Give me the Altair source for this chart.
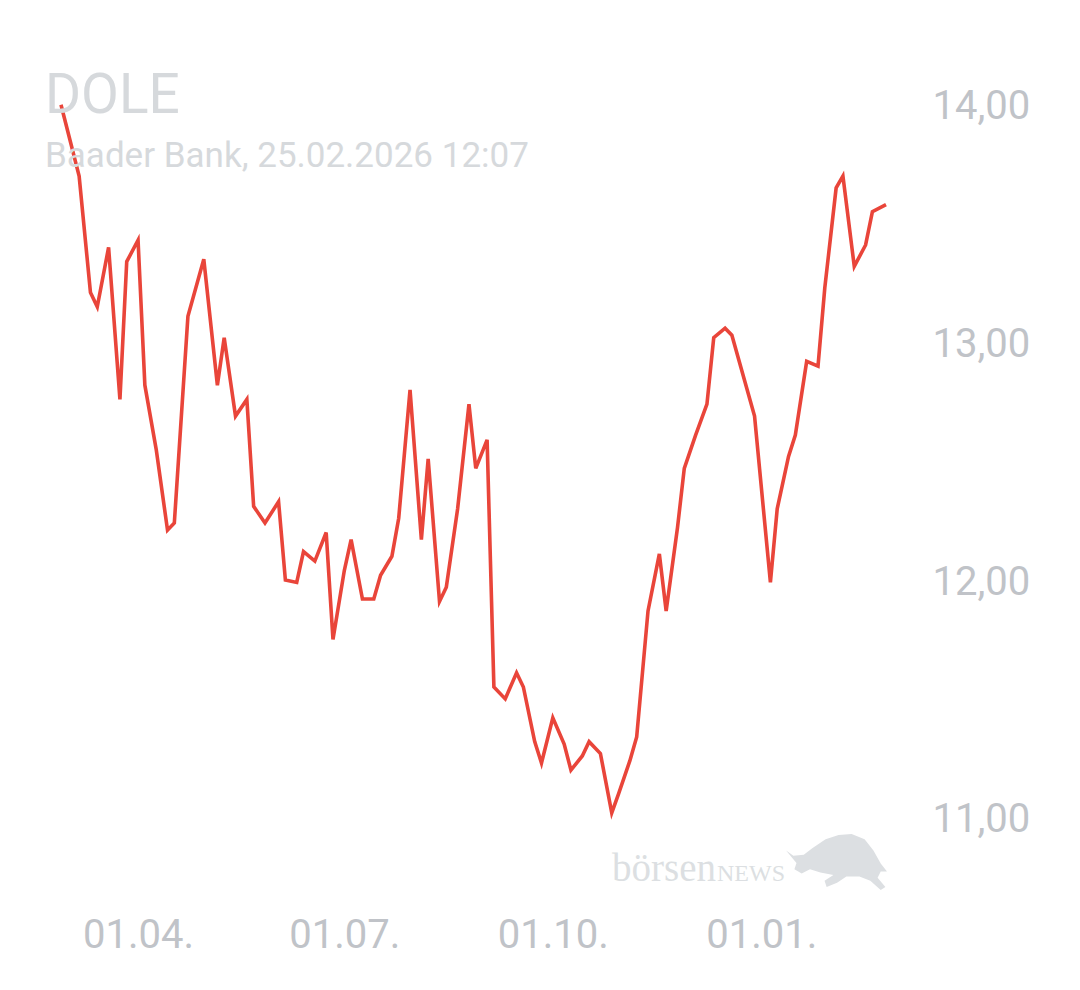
import altair as alt
import pandas as pd

# ---- data ----
dates = ["2025-02-26", "2025-03-06", "2025-03-11", "2025-03-14", "2025-03-19", "2025-03-24",
         "2025-03-27", "2025-04-01", "2025-04-04", "2025-04-09", "2025-04-14", "2025-04-17",
         "2025-04-23", "2025-04-30", "2025-05-06", "2025-05-09", "2025-05-14", "2025-05-19",
         "2025-05-22", "2025-05-27", "2025-06-02", "2025-06-05", "2025-06-10", "2025-06-13",
         "2025-06-18", "2025-06-23", "2025-06-26", "2025-07-01", "2025-07-04", "2025-07-09",
         "2025-07-14", "2025-07-17", "2025-07-22", "2025-07-25", "2025-07-30", "2025-08-04",
         "2025-08-07", "2025-08-12", "2025-08-15", "2025-08-20", "2025-08-25", "2025-08-28",
         "2025-09-02", "2025-09-05", "2025-09-10", "2025-09-15", "2025-09-18", "2025-09-23",
         "2025-09-26", "2025-10-01", "2025-10-06", "2025-10-09", "2025-10-14", "2025-10-17",
         "2025-10-22", "2025-10-27", "2025-10-30", "2025-11-04", "2025-11-07", "2025-11-12",
         "2025-11-17", "2025-11-20", "2025-11-25", "2025-11-28", "2025-12-03", "2025-12-08",
         "2025-12-11", "2025-12-16", "2025-12-19", "2025-12-29", "2026-01-05", "2026-01-08",
         "2026-01-13", "2026-01-16", "2026-01-21", "2026-01-26", "2026-01-29", "2026-02-03",
         "2026-02-06", "2026-02-11", "2026-02-16", "2026-02-19", "2026-02-25"]

prices = [14.00, 13.70, 13.21, 13.15, 13.40, 12.76, 13.34, 13.43, 12.82, 12.55,
          12.21, 12.24, 13.11, 13.35, 12.82, 13.02, 12.69, 12.76, 12.31, 12.24,
          12.33, 12.00, 11.99, 12.12, 12.08, 12.20, 11.75, 12.04, 12.17, 11.92,
          11.92, 12.02, 12.10, 12.26, 12.80, 12.17, 12.51, 11.91, 11.97, 12.30,
          12.74, 12.47, 12.59, 11.55, 11.50, 11.61, 11.55, 11.32, 11.23, 11.42,
          11.31, 11.20, 11.26, 11.32, 11.27, 11.02, 11.10, 11.24, 11.34, 11.87,
          12.11, 11.87, 12.22, 12.47, 12.61, 12.74, 13.02, 13.06, 13.03, 12.69,
          11.99, 12.30, 12.52, 12.61, 12.92, 12.90, 13.23, 13.65, 13.70, 13.32,
          13.41, 13.55, 13.58]

x_ticks = ["2025-04-01", "2025-07-01", "2025-10-01", "2026-01-01"]
y_ticks = [11, 12, 13, 14]
y_domain = [10.7, 14.1]

title_text = "DOLE"
subtitle_text = "Baader Bank, 25.02.2026 12:07"
brand_a = "börsen"
brand_b = "NEWS"

LINE = "#e9453a"
LABEL = "#c0c3c8"
TITLE = "#d6d9dc"
BRAND = "#dcdfe2"

# rough silhouette of the charging-bull logo (unit square path for a point symbol)
BULL = ("M-0.96,-0.2 L-0.82,-0.1 L-0.62,-0.12 L-0.45,-0.25 L-0.2,-0.42 L0.05,-0.5 "
        "L0.3,-0.52 L0.55,-0.42 L0.72,-0.2 L0.86,0.05 L0.98,0.2 L0.86,0.2 L0.8,0.32 "
        "L0.95,0.5 L0.86,0.56 L0.66,0.38 L0.45,0.3 L0.2,0.3 L0.02,0.42 L-0.18,0.5 "
        "L-0.22,0.38 L-0.05,0.27 L-0.3,0.22 L-0.5,0.16 L-0.66,0.24 L-0.8,0.16 "
        "L-0.76,0.04 Z")


def dt(s):
    y, m, d = map(int, s.split("-"))
    return alt.DateTime(year=y, month=m, date=d, utc=True)


df = pd.DataFrame({"date": dates, "price": prices})

line = alt.Chart(df).mark_line(color=LINE, strokeWidth=3.6, strokeJoin="miter").encode(
    x=alt.X(
        "date:T",
        scale=alt.Scale(type="utc", domain=[dt(dates[0]), dt(dates[-1])]),
        axis=alt.Axis(
            values=[dt(s) for s in x_ticks],
            labelExpr="utcFormat(datum.value, '%d.%m.')",
            title=None,
            domain=False,
            ticks=False,
            grid=False,
            labelFont="Roboto",
            labelFontSize=40,
            labelColor=LABEL,
            labelPadding=26,
            labelFlush=False,
            labelOverlap=False,
        ),
    ),
    y=alt.Y(
        "price:Q",
        scale=alt.Scale(domain=y_domain, nice=False, zero=False),
        axis=alt.Axis(
            orient="right",
            values=y_ticks,
            labelExpr="replace(format(datum.value, '.2f'), '.', ',')",
            title=None,
            domain=False,
            ticks=False,
            grid=False,
            labelFont="Roboto",
            labelFontSize=40,
            labelColor=LABEL,
            labelAlign="left",
            labelBaseline="middle",
            labelPadding=46,
            labelOffset=2,
            labelFlush=False,
            labelOverlap=False,
        ),
    ),
)

title = alt.Chart(pd.DataFrame({"t": [title_text]})).mark_text(
    align="left", baseline="alphabetic", font="Roboto", fontSize=55, color=TITLE
).encode(text="t:N", x=alt.value(-16), y=alt.value(32))

subtitle = alt.Chart(pd.DataFrame({"t": [subtitle_text]})).mark_text(
    align="left", baseline="alphabetic", font="Roboto", fontSize=35, color=TITLE
).encode(text="t:N", x=alt.value(-16), y=alt.value(86))

brand1 = alt.Chart(pd.DataFrame({"t": [brand_a]})).mark_text(
    align="left", baseline="alphabetic", font="Liberation Serif", fontSize=39, color=BRAND
).encode(text="t:N", x=alt.value(551), y=alt.value(800))

brand2 = alt.Chart(pd.DataFrame({"t": [brand_b]})).mark_text(
    align="left", baseline="alphabetic", font="Liberation Serif", fontSize=24, color=BRAND
).encode(text="t:N", x=alt.value(656), y=alt.value(800))

bull = alt.Chart(pd.DataFrame({"k": [0]})).mark_point(
    shape=BULL, filled=True, size=10816, color=BRAND, opacity=1, strokeWidth=0
).encode(x=alt.value(775), y=alt.value(780))

chart = alt.layer(line, title, subtitle, brand1, brand2, bull).properties(
    width=825,
    height=808,
    autosize=alt.AutoSizeParams(type="none"),
    padding={"left": 53, "top": 73, "right": 180, "bottom": 80},
    background="white",
).configure_view(stroke=None)

chart.save("out.html", embed_options={"renderer": "svg", "actions": False})
